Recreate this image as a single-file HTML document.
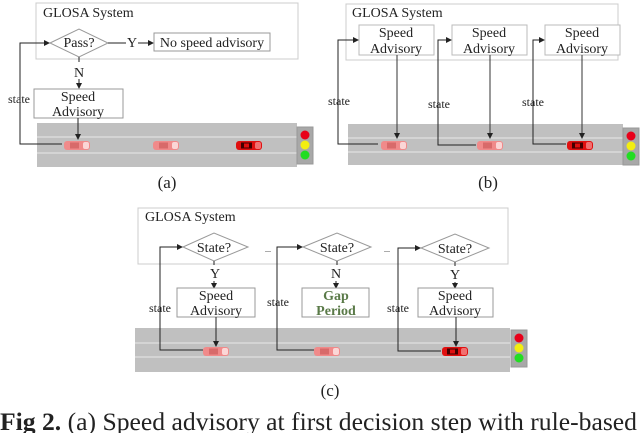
<!DOCTYPE html>
<html><head><meta charset="utf-8"><style>
html,body{margin:0;padding:0;background:#fff;}
svg{display:block;}
text{font-family:"Liberation Serif",serif;fill:#222;}
</style></head><body>
<svg width="640" height="433" viewBox="0 0 640 433" xmlns="http://www.w3.org/2000/svg">
<defs>
<marker id="ar" markerWidth="6" markerHeight="6" refX="5" refY="3" orient="auto" markerUnits="userSpaceOnUse">
<path d="M0,0 L6,3 L0,6 z" fill="#222"/></marker>
<g id="light">
<rect x="0" y="0" width="16" height="37" fill="#a8a8a8" stroke="#999"/>
<circle cx="8" cy="8" r="4.5" fill="#e8001a"/>
<circle cx="8" cy="18" r="4.5" fill="#f2ee10"/>
<circle cx="8" cy="28" r="4.5" fill="#22dd22"/>
</g>
<g id="carL">
<rect x="0" y="0" width="26" height="9" rx="3" fill="#f08a8a"/>
<rect x="19" y="1" width="6" height="7" rx="2" fill="#fbd6d6"/>
<rect x="6" y="1.5" width="9" height="6" fill="#d86a6a"/>
</g>
<g id="carD">
<rect x="0" y="0" width="26" height="9" rx="3" fill="#e01010"/>
<rect x="19" y="1" width="6" height="7" rx="2" fill="#f07070"/>
<rect x="5" y="1.5" width="11" height="6" fill="#400"/>
<rect x="8" y="2.5" width="5" height="4" fill="#e01010"/>
</g>
</defs>

<!-- Panel (a) -->
<rect x="36" y="3" width="262" height="56" fill="#fff" stroke="#ccc"/>
<text x="43" y="17" font-size="14">GLOSA System</text>
<polygon points="50,43 79,29 108,43 79,57" fill="#fff" stroke="#999"/>
<text x="79" y="47" font-size="14" text-anchor="middle">Pass?</text>
<line x1="108" y1="43" x2="126" y2="43" stroke="#222"/>
<text x="132" y="47" font-size="14" text-anchor="middle">Y</text>
<line x1="138" y1="43" x2="153" y2="43" stroke="#222" marker-end="url(#ar)"/>
<rect x="154" y="33" width="116" height="18" fill="#fff" stroke="#999"/>
<text x="212" y="47" font-size="14" text-anchor="middle">No speed advisory</text>
<line x1="79" y1="57" x2="79" y2="62" stroke="#222"/>
<text x="79" y="77" font-size="14" text-anchor="middle">N</text>
<line x1="79" y1="79" x2="79" y2="88" stroke="#222" marker-end="url(#ar)"/>
<rect x="34" y="89" width="89" height="29" fill="#fff" stroke="#999"/>
<text x="78" y="101" font-size="14" text-anchor="middle">Speed</text>
<text x="78" y="116" font-size="14" text-anchor="middle">Advisory</text>
<text x="19" y="103" font-size="12" text-anchor="middle">state</text>
<rect x="37" y="123" width="260" height="44" fill="#c0c0c0"/>
<line x1="37" y1="137" x2="297" y2="137" stroke="#e8e8e8"/>
<line x1="37" y1="153" x2="297" y2="153" stroke="#e8e8e8"/>
<polyline points="62,144 20,144 20,43 49,43" fill="none" stroke="#222" marker-end="url(#ar)"/>
<line x1="78" y1="118" x2="78" y2="139" stroke="#222" marker-end="url(#ar)"/>
<use href="#carL" x="64" y="141"/>
<use href="#carL" x="153" y="141"/>
<use href="#carD" x="236" y="141"/>
<use href="#light" x="297" y="127"/>
<text x="167" y="188" font-size="17" text-anchor="middle">(a)</text>

<!-- Panel (b) -->
<rect x="346" y="4" width="272" height="56" fill="#fff" stroke="#ccc"/>
<text x="352" y="17" font-size="14">GLOSA System</text>
<rect x="359" y="25" width="75" height="30" fill="#fff" stroke="#bbb"/>
<text x="396" y="37" font-size="14" text-anchor="middle">Speed</text>
<text x="396" y="53" font-size="14" text-anchor="middle">Advisory</text>
<rect x="452" y="25" width="75" height="30" fill="#fff" stroke="#bbb"/>
<text x="489" y="37" font-size="14" text-anchor="middle">Speed</text>
<text x="489" y="53" font-size="14" text-anchor="middle">Advisory</text>
<rect x="545" y="25" width="75" height="30" fill="#fff" stroke="#bbb"/>
<text x="582" y="37" font-size="14" text-anchor="middle">Speed</text>
<text x="582" y="53" font-size="14" text-anchor="middle">Advisory</text>
<rect x="348" y="124" width="275" height="41" fill="#c0c0c0"/>
<line x1="348" y1="138" x2="623" y2="138" stroke="#e8e8e8"/>
<line x1="348" y1="152" x2="623" y2="152" stroke="#e8e8e8"/>
<polyline points="378,144 338,144 338,40 358,40" fill="none" stroke="#222" marker-end="url(#ar)"/>
<polyline points="476,145 438,145 438,40 451,40" fill="none" stroke="#222" marker-end="url(#ar)"/>
<polyline points="566,144 533,144 533,40 544,40" fill="none" stroke="#222" marker-end="url(#ar)"/>
<text x="339" y="105" font-size="12" text-anchor="middle">state</text>
<text x="439" y="108" font-size="12" text-anchor="middle">state</text>
<text x="533" y="106" font-size="12" text-anchor="middle">state</text>
<line x1="397" y1="55" x2="397" y2="138" stroke="#333" marker-end="url(#ar)"/>
<line x1="490" y1="55" x2="490" y2="138" stroke="#333" marker-end="url(#ar)"/>
<line x1="582" y1="55" x2="582" y2="138" stroke="#333" marker-end="url(#ar)"/>
<use href="#carL" x="381" y="141"/>
<use href="#carL" x="477" y="141"/>
<use href="#carD" x="567" y="141"/>
<use href="#light" x="623" y="128"/>
<text x="488" y="188" font-size="17" text-anchor="middle">(b)</text>

<!-- Panel (c) -->
<rect x="138" y="208" width="370" height="56" fill="#fff" stroke="#ccc"/>
<text x="145" y="221" font-size="14">GLOSA System</text>
<polygon points="183,247 214,233 248,247 214,261" fill="#fff" stroke="#999"/>
<text x="214" y="252" font-size="14" text-anchor="middle">State?</text>
<polygon points="303,247 337,233 371,247 337,261" fill="#fff" stroke="#999"/>
<text x="337" y="252" font-size="14" text-anchor="middle">State?</text>
<polygon points="421,248 455,234 489,248 455,262" fill="#fff" stroke="#999"/>
<text x="455" y="253" font-size="14" text-anchor="middle">State?</text>
<text x="268" y="252" font-size="8" text-anchor="middle">...</text>
<text x="387" y="252" font-size="8" text-anchor="middle">...</text>
<line x1="214" y1="261" x2="214" y2="265" stroke="#222"/>
<line x1="337" y1="261" x2="337" y2="265" stroke="#222"/>
<line x1="455" y1="262" x2="455" y2="266" stroke="#222"/>
<text x="215" y="278" font-size="14" text-anchor="middle">Y</text>
<text x="336" y="278" font-size="14" text-anchor="middle">N</text>
<text x="455" y="279" font-size="14" text-anchor="middle">Y</text>
<line x1="214" y1="281" x2="214" y2="288" stroke="#222" marker-end="url(#ar)"/>
<line x1="336" y1="281" x2="336" y2="288" stroke="#222" marker-end="url(#ar)"/>
<line x1="455" y1="282" x2="455" y2="288" stroke="#222" marker-end="url(#ar)"/>
<rect x="177" y="288" width="78" height="29" fill="#fff" stroke="#999"/>
<text x="216" y="300" font-size="14" text-anchor="middle">Speed</text>
<text x="216" y="315" font-size="14" text-anchor="middle">Advisory</text>
<rect x="302" y="288" width="67" height="29" fill="#fff" stroke="#999"/>
<text x="336" y="300" font-size="14" font-weight="bold" text-anchor="middle" style="fill:#5a7a48">Gap</text>
<text x="336" y="315" font-size="14" font-weight="bold" text-anchor="middle" style="fill:#5a7a48">Period</text>
<rect x="418" y="288" width="75" height="29" fill="#fff" stroke="#999"/>
<text x="455" y="300" font-size="14" text-anchor="middle">Speed</text>
<text x="455" y="315" font-size="14" text-anchor="middle">Advisory</text>
<rect x="135" y="328" width="375" height="44" fill="#c0c0c0"/>
<line x1="135" y1="343" x2="510" y2="343" stroke="#e8e8e8"/>
<line x1="135" y1="357" x2="510" y2="357" stroke="#e8e8e8"/>
<polyline points="203,350 160,350 160,247 182,247" fill="none" stroke="#222" marker-end="url(#ar)"/>
<polyline points="314,350 277,350 277,247 302,247" fill="none" stroke="#222" marker-end="url(#ar)"/>
<polyline points="441,351 398,351 398,248 420,248" fill="none" stroke="#222" marker-end="url(#ar)"/>
<text x="160" y="312" font-size="12" text-anchor="middle">state</text>
<text x="278" y="306" font-size="12" text-anchor="middle">state</text>
<text x="398" y="312" font-size="12" text-anchor="middle">state</text>
<line x1="216" y1="317" x2="216" y2="346" stroke="#222" marker-end="url(#ar)"/>
<line x1="456" y1="317" x2="456" y2="346" stroke="#222" marker-end="url(#ar)"/>
<use href="#carL" x="203" y="347"/>
<use href="#carL" x="314" y="347"/>
<use href="#carD" x="442" y="347"/>
<use href="#light" x="511" y="330"/>
<text x="330" y="396" font-size="17" text-anchor="middle">(c)</text>

<text x="0" y="430" font-size="25" textLength="637" lengthAdjust="spacingAndGlyphs"><tspan font-weight="bold">Fig 2.</tspan> (a) Speed advisory at first decision step with rule-based</text>
</svg>
</body></html>
